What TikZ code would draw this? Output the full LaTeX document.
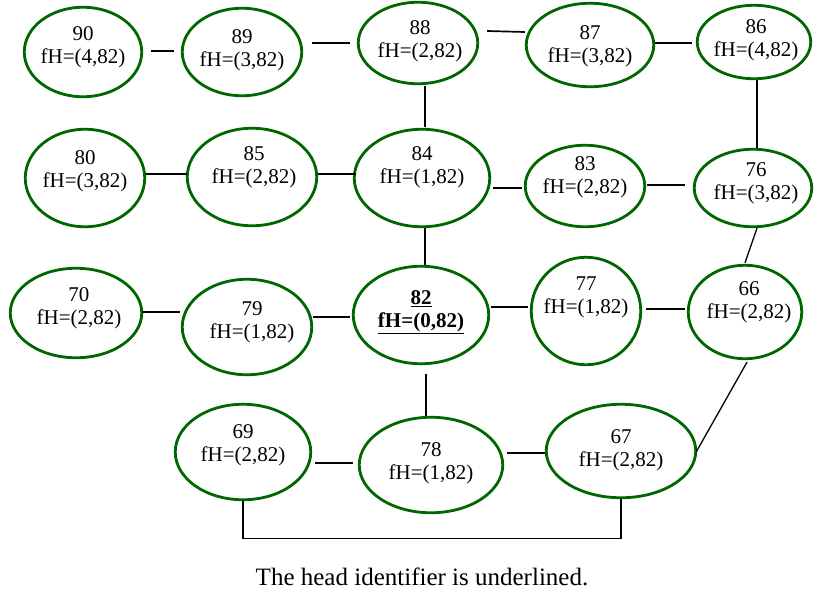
\documentclass[tikz,border=0pt]{standalone}
\usepackage{fontspec}
\setmainfont{LiberationSerif}[Extension=.ttf, UprightFont=*-Regular, BoldFont=*-Bold, ItalicFont=*-Italic, BoldItalicFont=*-BoldItalic]
\usetikzlibrary{shapes.geometric,calc}
\definecolor{egreen}{RGB}{0,102,0}
\tikzset{
  el/.style={ellipse, draw=egreen, line width=2.8pt, inner sep=0pt},
  lbl/.style={align=center, inner sep=0pt, font=\rmfamily\fontsize{21}{23}\selectfont},
  conn/.style={draw=black, line width=1.7pt},
  thinconn/.style={draw=black, line width=1.3pt},
  captext/.style={font=\rmfamily\fontsize{25}{28}\selectfont, inner sep=0pt, anchor=base}
}
% name, x, y, rx, ry, dx, dy, text
\newcommand\enode[8]{%
  \node[el, minimum width=2*#4pt-2.5pt, minimum height=2*#5pt-2.5pt] (#1) at (#2,#3) {};
  \node[lbl] (#1t) at ($(#1)+(#6,#7)$) {#8};}
\begin{document}
\begin{tikzpicture}[x=1pt,y=-1pt]
\useasboundingbox (0,0) rectangle (814,595);
% row 1
\enode{n90}{83}{52}{60}{46}{0}{-5}{90\\fH=(4,82)}
\enode{n89}{242}{52}{61}{45}{0}{-2}{89\\fH=(3,82)}
\enode{n88}{418}{43}{61}{42}{2}{-2}{88\\fH=(2,82)}
\enode{n87}{590}{45}{65}{43}{0}{1}{87\\fH=(3,82)}
\enode{n86}{754}{42}{58}{38}{2}{-2}{86\\fH=(4,82)}
% row 2
\enode{n80}{85}{178}{61}{50}{0}{-7}{80\\fH=(3,82)}
\enode{n85}{252}{177}{66}{50}{2}{-10}{85\\fH=(2,82)}
\enode{n84}{422}{178}{69}{50}{0}{-11}{84\\fH=(1,82)}
\enode{n83}{585}{186}{61}{42}{0}{-9}{83\\fH=(2,82)}
\enode{n76}{753}{188}{60}{40}{3}{-5}{76\\fH=(3,82)}
% row 3
\enode{n70}{76}{313}{67}{46}{3}{-5}{70\\fH=(2,82)}
\enode{n79}{247}{327}{66}{49}{5}{-5}{79\\fH=(1,82)}
\enode{n82}{421}{315}{69}{50}{0}{-3}{\underline{\textbf{82}}\\\underline{\textbf{fH=(0,82)}}}
\enode{n77}{586}{311}{56}{55}{0}{-14}{77\\fH=(1,82)}
\enode{n66}{745}{312}{58}{48}{4}{-10}{66\\fH=(2,82)}
% row 4
\enode{n69}{243}{452}{69}{49}{0}{-7}{69\\fH=(2,82)}
\enode{n78}{431}{465}{73}{49}{0}{-2}{78\\fH=(1,82)}
\enode{n67}{621}{451}{76}{48}{0}{-1}{67\\fH=(2,82)}
% connectors row 1
\draw[conn] ($(n90.east)+(8,-1)$) -- ($(n89.west)+(-7,-1)$);
\draw[conn] ($(n89.east)+(9,-9)$) -- ($(n88.west)+(-7,0)$);
\draw[conn] ($(n88.east)+(8,-12)$) -- ($(n87.west)+(0,-13)$);
\draw[conn] ($(n87.east)+(0,-2)$) -- ($(n86.west)+(-4,1)$);
% verticals
\draw[conn] ($(n88.south)+(7,1)$) -- ($(n84.north)+(3,-1)$);
\draw[thinconn] ($(n86.south)+(3,0)$) -- ($(n76.north)+(4,0)$);
\draw[conn] ($(n84.south)+(3,0)$) -- ($(n82.north)+(4,0)$);
\draw[conn] ($(n82.south)+(5,9)$) -- ($(n78.north)+(-5,0)$);
% row 2
\draw[conn] ($(n80.east)+(0,-4)$) -- ($(n85.west)+(1,-3)$);
\draw[conn] ($(n85.east)+(0,-3)$) -- ($(n84.west)+(3,-4)$);
\draw[conn] ($(n84.east)+(2,10)$) -- ($(n83.west)+(-2,2)$);
\draw[conn] ($(n83.east)+(1,-1)$) -- ($(n76.west)+(-8,-3)$);
% slants
\draw[thinconn] ($(n76.south)+(4,0)$) -- ($(n66.north)+(0,-1)$);
\draw[thinconn] ($(n66.south)+(2,2)$) -- ($(n67.east)+(-1,1)$);
% row 3
\draw[conn] ($(n70.east)+(-1,-1)$) -- ($(n79.west)+(-1,-15)$);
\draw[conn] ($(n79.east)+(0,-10)$) -- ($(n82.west)+(-2,2)$);
\draw[conn] ($(n82.east)+(1,-8)$) -- ($(n77.west)+(-2,-4)$);
\draw[conn] ($(n77.east)+(4,-2)$) -- ($(n66.west)+(-2,-3)$);
% row 4
\draw[conn] ($(n69.east)+(3,11)$) -- ($(n78.west)+(-5,-2)$);
\draw[conn] ($(n78.east)+(3,-12)$) -- ($(n67.west)+(0,2)$);
\draw[thinconn] (n69.south) -- ++(0,37) -| (n67.south);
% caption
\node[captext] (caption) at (422,585) {The head identifier is underlined.};
\end{tikzpicture}
\end{document}
